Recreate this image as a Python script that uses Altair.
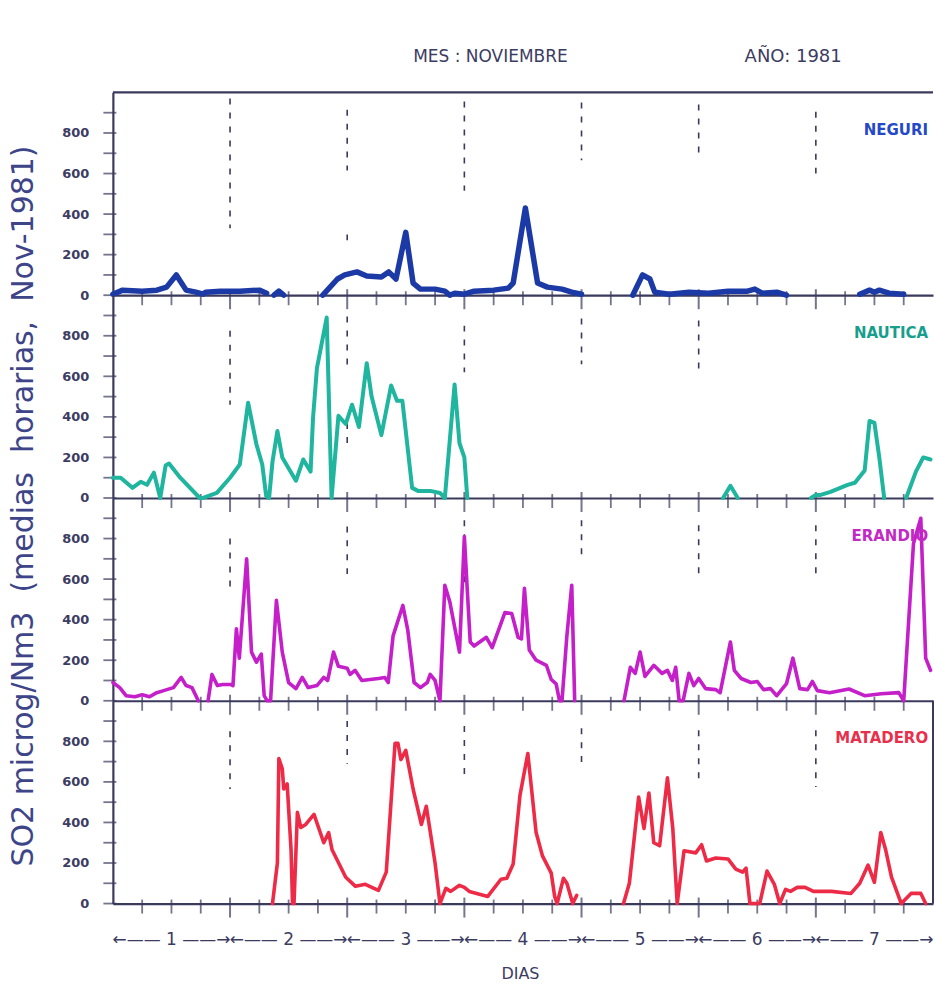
import altair as alt
import pandas as pd

# ---------------- data ----------------
STATIONS = ["NEGURI", "NAUTICA", "ERANDIO", "MATADERO"]
LINE_COLORS = ["#1b3aa6", "#1fb59e", "#c41fc8", "#ee2b47"]
LABEL_COLORS = ["#2448c8", "#179e8c", "#c22ac4", "#e8304c"]
LINE_WIDTHS = [5.5, 4.0, 3.6, 3.6]

# hours since 1 Nov 00:00 ; None marks a gap in the record
NEGURI_H = [0, 2, 6, 9, 11, 13, 15, 17, 18.5, 19, 22, 26, 30, 31.5, None,
            33, 34, 35, None,
            43, 46, 47.5, 50, 52, 55, 56.5, 58, 60, 61.5, 63, 66, 68, 69, 70, 72,
            74, 78, 81, 82, 84.5, 87, 89, 92, 94, 96, None,
            106.5, 108.5, 110, 111, 114, 118, 122, 126, 130, 131.5, 133, 136, 138, None,
            153, 155, 156, 157, 159, 162]
NEGURI_V = [5, 25, 20, 25, 40, 100, 25, 15, 5, 15, 20, 20, 25, 10, None,
            0, 20, 0, None,
            0, 80, 100, 115, 95, 90, 115, 80, 310, 60, 30, 30, 20, 0, 10, 5,
            20, 25, 35, 60, 430, 60, 40, 30, 15, 5, None,
            0, 100, 80, 15, 5, 15, 10, 20, 20, 30, 10, 15, 0, None,
            5, 25, 15, 25, 10, 5]

NAUTICA_H = [0, 1.6, 4, 5.7, 7, 8.4, 9.7, 10.8, 11.5, 13.8, 17.8, 18.5, 21.3, 24, 26,
             27.7, 29.4, 30.6, 31.4, 32, 32.7, 33.7, 34.7, 37.5, 39, 40.5,
             41, 41.8, 43.8, 44.8, 45.6, 46.2, 47.7, 49, 50.4, 52, 53, 55, 57, 58.2,
             59.3, 61.3, 62.5, 65, 67, 68, 70, 71, 72, 72.6, None,
             125, 126.5, 128, None,
             143, 144, 145, 147, 149, 150.5, 152, 154, 155, 156, 157, 158, None,
             162.5, 164.5, 166, 167.5]
NAUTICA_V = [100, 100, 50, 80, 65, 125, 0, 160, 170, 100, 0, 0, 25, 100, 165,
             470, 265, 165, 10, 0, 180, 330, 200, 85, 190, 130,
             395, 640, 890, 0, 230, 405, 365, 460, 350, 665, 500, 310, 555, 480,
             480, 50, 35, 35, 25, 0, 560, 270, 200, 0, None,
             0, 60, 0, None,
             0, 15, 15, 30, 50, 65, 75, 135, 380, 370, 200, 0, None,
             0, 130, 200, 190]

ERANDIO_H = [0, 1.4, 2.7, 4.5, 6, 7.5, 9, 10.4, 12.4, 14, 15, 16.2, 17.5, None,
             19.5, 20.3, 21.4, 22.5, 24.2, 24.6, 25.3, 25.9, 27.4, 28.4, 29.4, 30.4,
             31, 31.6, 32.3, 33.5, 34.7, 36, 37.5, 38.8, 40, 41.8, 43.2, 44, 45.2,
             46.2, 48, 48.6, 49.6, 51, 54.4, 55.7, 56.4, 57.4, 59.4, 60.4, 61.7, 63,
             64.4, 65, 66, 67, 68, 69, 71, 72, 72.6, 73.2, 74, 76.5, 77.7, 80.3, 81.7,
             83, 83.7, 84.3, 85.3, 86.7, 88.8, 89.8, 90.8, 91.5, 92, 93, 94, 94.6, None,
             104.7, 106, 107, 108, 109, 110.8, 112.5, 113.6, 114.6, 115.3, 116, 116.8,
             118, 119, 120, 121.4, 123.5, 124.4, 126.5, 127.3, 128.7, 130.7, 132,
             133.3, 134.7, 136, 138, 139.3, 140.7, 142.3, 143.3, 144.3, 146.8, 150.8,
             154, 157.4, 161, 162, 164, 165.5, 166.5, 167.5]
ERANDIO_V = [90, 65, 25, 20, 30, 20, 40, 50, 65, 115, 75, 65, 0, None,
             0, 130, 75, 80, 80, 75, 355, 210, 700, 240, 190, 230,
             25, 0, 0, 495, 240, 90, 60, 115, 65, 75, 115, 100, 240,
             170, 160, 130, 150, 100, 110, 115, 90, 320, 470, 350, 90, 65,
             90, 130, 100, 0, 570, 490, 240, 810, 545, 290, 270, 313, 262, 435, 430,
             313, 305, 555, 250, 200, 175, 105, 83, 0, 0, 320, 570, 0, None,
             0, 165, 135, 240, 120, 175, 135, 150, 100, 165, 0, 0,
             135, 75, 110, 60, 55, 40, 290, 150, 110, 90, 95,
             55, 60, 25, 85, 210, 60, 55, 95, 50, 40, 58,
             25, 35, 40, 0, 775, 900, 210, 150]

MATADERO_H = [32.7, 33.7, 34, 34.7, 35, 35.7, 36.5, 36.8, 37.1, 37.8, 38.5, 39.5, 41.2,
              43.2, 44.2, 44.9, 47.7, 49.7, 51.7, 54.4, 56, 57.8, 58.4, 59, 60, 61.5,
              63.2, 64.2, 66, 67, 68.2, 69.2, 71, 72, 73, 76.8, 79.5, 80.7, 82, 83.4,
              85, 86.7, 88, 89.8, 90.5, 91, 92.3, 93, 94.2, 95, None,
              104.6, 105.8, 107.7, 108.8, 109.8, 110.8, 112, 113.6, 114.7, 115.6, 117,
              119.4, 120.6, 121.6, 123.5, 126, 127.6, 129, 129.7, 130.5, 132.5, 134,
              135.5, 136.6, 137.8, 138.8, 140.2, 141.8, 143.5, 147.2, 151.2, 153,
              154.7, 156, 157.3, 158.3, 159.5, 161.5, 163.5, 165.5, 166.5]
MATADERO_V = [0, 200, 715, 665, 565, 590, 265, 0, 0, 450, 375, 390, 440,
              300, 350, 265, 130, 85, 95, 65, 155, 790, 790, 710, 755, 565,
              390, 480, 200, 0, 75, 60, 90, 80, 60, 35, 120, 125, 195, 535,
              740, 350, 235, 150, 35, 0, 125, 100, 0, 40, None,
              0, 100, 525, 370, 545, 300, 285, 620, 370, 0, 260,
              250, 290, 210, 225, 220, 170, 155, 175, 0, 0, 160,
              95, 0, 70, 60, 80, 80, 60, 60, 50, 100,
              190, 105, 350, 265, 130, 0, 50, 50, 0]

SERIES_H = [NEGURI_H, NAUTICA_H, ERANDIO_H, MATADERO_H]
SERIES_V = [NEGURI_V, NAUTICA_V, ERANDIO_V, MATADERO_V]

# dashed day separators drawn in the upper part of each panel
DASH_PANEL = [0, 0, 0, 0, 0, 0, 0,
              1, 1, 1, 1, 1, 1,
              2, 2, 2, 2, 2, 2,
              3, 3, 3, 3, 3, 3]
DASH_DAY = [1, 2, 2, 3, 4, 5, 6,
            1, 2, 2, 3, 4, 5,
            1, 2, 3, 4, 5, 6,
            1, 2, 3, 4, 5, 6]
DASH_TOP = [970, 915, 300, 955, 950, 940, 905,
            825, 895, 370, 850, 885, 875,
            800, 860, 890, 890, 865, 865,
            850, 900, 875, 865, 855, 855]
DASH_BOT = [330, 615, 270, 515, 665, 675, 600,
            460, 645, 260, 620, 660, 635,
            525, 625, 560, 700, 625, 600,
            565, 690, 615, 665, 605, 575]

DAYS = [1, 2, 3, 4, 5, 6, 7]
Y_LABELS = [0, 200, 400, 600, 800]
Y_TICKS = [0, 100, 200, 300, 400, 500, 600, 700, 800, 900]
X_MINOR_TICKS = [6, 12, 18, 30, 36, 42, 54, 60, 66, 78, 84, 90,
                 102, 108, 114, 126, 132, 138, 150, 156, 162]
X_MAJOR_TICKS = [24, 48, 72, 96, 120, 144]

TITLE_MONTH = "MES : NOVIEMBRE"
TITLE_YEAR = "AÑO:\u00a01981"
Y_TITLE = "SO2 microg/Nm3\u00a0 (medias\u00a0 horarias,\u00a0 Nov-1981)"
X_TITLE = "DIAS"

# ---------------- styling ----------------
W, H = 821, 203
AXIS = "#3a3a5c"
TXT = "#3c3c62"
FONT = "DejaVu Sans"

xscale = alt.Scale(domain=[0, 168], nice=False, zero=False)
yscale = alt.Scale(domain=[0, 1000], nice=False)


def X(field):
    return alt.X(f"{field}:Q", scale=xscale,
                 axis=alt.Axis(labels=False, ticks=False, domain=True, grid=False,
                               title=None, domainColor=AXIS, domainWidth=2.2))


def Y(field):
    return alt.Y(f"{field}:Q", scale=yscale,
                 axis=alt.Axis(values=Y_LABELS, ticks=False, domain=True, grid=False,
                               title=None, domainColor=AXIS, domainWidth=2.2,
                               labelFont=FONT, labelFontWeight="bold", labelFontSize=13,
                               labelColor=TXT, labelPadding=24))


def series_frame(hs, vs):
    rows, seg = [], 0
    for h, v in zip(hs, vs):
        if h is None or v is None:
            seg += 1
            continue
        rows.append({"h": h, "v": v, "seg": seg})
    return pd.DataFrame(rows)


def panel(i):
    df = series_frame(SERIES_H[i], SERIES_V[i])
    line = alt.Chart(df).mark_line(
        color=LINE_COLORS[i], strokeWidth=LINE_WIDTHS[i], strokeJoin="round",
        strokeCap="round").encode(x=X("h"), y=Y("v"), detail="seg:N")

    dd = pd.DataFrame({"p": DASH_PANEL, "d": DASH_DAY, "v": DASH_TOP, "v2": DASH_BOT})
    dd = dd[dd.p == i].assign(h=lambda t: t.d * 24)
    dashes = alt.Chart(dd).mark_rule(color=AXIS, strokeWidth=1.6,
                                     strokeDash=[6, 8]).encode(
        x=X("h"), y=Y("v"), y2=alt.Y2("v2:Q"))

    minor = alt.Chart(pd.DataFrame({"h": X_MINOR_TICKS, "v": 0})).mark_tick(
        orient="vertical", size=14, thickness=1.8, color=AXIS, yOffset=3).encode(
        x=X("h"), y=Y("v"))
    major = alt.Chart(pd.DataFrame({"h": X_MAJOR_TICKS, "v": 0})).mark_tick(
        orient="vertical", size=20, thickness=2, color=AXIS, yOffset=4).encode(
        x=X("h"), y=Y("v"))
    yt = alt.Chart(pd.DataFrame({"v": Y_TICKS, "h": 0})).mark_tick(
        orient="horizontal", size=13, thickness=1.8, color=AXIS, xOffset=-3).encode(
        x=X("h"), y=Y("v"))

    lab = alt.Chart(pd.DataFrame({"h": [167], "v": [815], "t": [STATIONS[i]]})).mark_text(
        align="right", baseline="middle", font=FONT, fontWeight="bold", fontSize=15,
        color=LABEL_COLORS[i]).encode(x=X("h"), y=Y("v"), text="t:N")

    layers = [dashes, minor, major, yt, line, lab]

    if i == 0:
        top = alt.Chart(pd.DataFrame({"v": [1000]})).mark_rule(
            color=AXIS, strokeWidth=2.2).encode(y=Y("v"), x=alt.value(0), x2=alt.value(W))
        t1 = alt.Chart(pd.DataFrame({"t": [TITLE_MONTH]})).mark_text(
            font=FONT, fontSize=17, color=TXT, align="center", baseline="middle").encode(
            text="t:N", x=alt.value(378), y=alt.value(-35))
        t2 = alt.Chart(pd.DataFrame({"t": [TITLE_YEAR]})).mark_text(
            font=FONT, fontSize=18, color=TXT, align="center", baseline="middle").encode(
            text="t:N", x=alt.value(681), y=alt.value(-35))
        layers += [top, t1, t2]
    if i == 2:
        yt_title = alt.Chart(pd.DataFrame({"t": [Y_TITLE]})).mark_text(
            font=FONT, fontSize=30, color="#3d4588", angle=270, align="center",
            baseline="middle").encode(text="t:N", x=alt.value(-89), y=alt.value(8))
        layers += [yt_title]
    if i == 3:
        right = alt.Chart(pd.DataFrame({"h": [168]})).mark_rule(
            color=AXIS, strokeWidth=2).encode(x=X("h"), y=alt.value(0), y2=alt.value(H))
        dl = alt.Chart(pd.DataFrame({"day": DAYS})).transform_calculate(
            h="datum.day * 24 - 12",
            t="'\u2190\u2014\u2014 ' + datum.day + ' \u2014\u2014\u2192'").mark_text(
            font=FONT, fontSize=17, color=TXT, align="center", baseline="middle").encode(
            x=X("h"), y=alt.value(H + 36), text="t:N")
        xt = alt.Chart(pd.DataFrame({"t": [X_TITLE]})).mark_text(
            font=FONT, fontSize=16, color=TXT, align="center", baseline="middle").encode(
            text="t:N", x=alt.value(408), y=alt.value(H + 71))
        layers += [right, dl, xt]

    return alt.layer(*layers).properties(width=W, height=H)


chart = alt.vconcat(*[panel(i) for i in range(4)], spacing=0, bounds="flush").properties(
    padding={"left": 8, "top": 48, "right": 0, "bottom": 0},
    background="white",
).configure_view(stroke=None)

chart.save("out.html", embed_options={"renderer": "svg", "actions": False})
